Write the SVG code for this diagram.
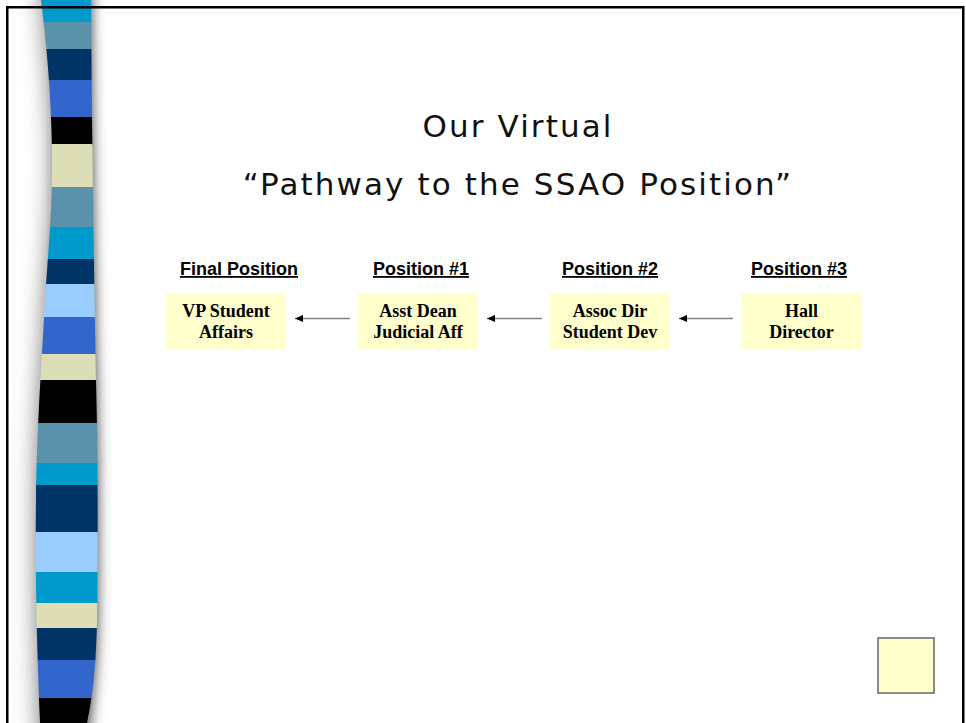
<svg xmlns="http://www.w3.org/2000/svg" width="966" height="723" viewBox="0 0 966 723">
<defs>
<style>
.title{font-family:"DejaVu Sans","Liberation Sans",sans-serif;font-size:31px;letter-spacing:2.1px;fill:#111;text-anchor:middle}
.hdr{font-family:"Liberation Sans",Arial,sans-serif;font-size:18px;font-weight:bold;text-anchor:middle;text-decoration:underline;fill:#000}
.box{fill:#FFFFCC;stroke:none}
.lbl{font-family:"Liberation Serif","Times New Roman",serif;font-size:18px;font-weight:bold;text-anchor:middle;fill:#000}
.conn{stroke:#808080;stroke-width:1.5;fill:none}
</style>
<clipPath id="band">
<path d="M41,0 C46,40 51,90 52,150 C53,200 49,240 45,300 C42,360 37,420 36,500 C35,580 37,650 40,723 L87,723 C92,700 96,670 97,620 C98,540 98,460 96,380 C94,280 92,140 91,0 Z"/>
</clipPath>
<filter id="blurL" x="-100%" y="-10%" width="300%" height="120%">
<feGaussianBlur stdDeviation="12"/>
</filter>
<filter id="blurR" x="-100%" y="-10%" width="300%" height="120%">
<feGaussianBlur stdDeviation="7"/>
</filter>
<marker id="ah" markerWidth="8" markerHeight="7" refX="8" refY="3.5" orient="auto" markerUnits="userSpaceOnUse">
<path d="M0,0 L8,3.5 L0,7 Z" fill="#000"/>
</marker>
</defs>
<rect x="0" y="0" width="966" height="723" fill="#fff"/>
<g id="band-shadow">
<path filter="url(#blurL)" d="M42,-20 C47,40 52,90 53,150 C54,200 50,240 46,300 C43,360 38,420 37,500 C36,580 38,650 41,743 L70,743 L70,-20 Z" fill="#707070"/>
<path filter="url(#blurR)" d="M60,-20 L89,-20 L91,0 C92,140 94,280 96,380 C98,460 98,540 97,620 C96,670 92,700 87,743 L60,743 Z" fill="#404040"/>
</g>
<g id="stripes" clip-path="url(#band)">
<rect x="30" y="0" width="75" height="23" fill="#0099CC"/>
<rect x="30" y="22" width="75" height="28" fill="#5A91AB"/>
<rect x="30" y="49" width="75" height="32" fill="#003366"/>
<rect x="30" y="80" width="75" height="38" fill="#3366CC"/>
<rect x="30" y="117" width="75" height="28" fill="#000000"/>
<rect x="30" y="144" width="75" height="44" fill="#DDDEB8"/>
<rect x="30" y="187" width="75" height="41" fill="#5A91AB"/>
<rect x="30" y="227" width="75" height="33" fill="#0099CC"/>
<rect x="30" y="259" width="75" height="26" fill="#003366"/>
<rect x="30" y="284" width="75" height="34" fill="#99CCFF"/>
<rect x="30" y="317" width="75" height="38" fill="#3366CC"/>
<rect x="30" y="354" width="75" height="27" fill="#DDDEB8"/>
<rect x="30" y="380" width="75" height="44" fill="#000000"/>
<rect x="30" y="423" width="75" height="41" fill="#5A91AB"/>
<rect x="30" y="463" width="75" height="23" fill="#0099CC"/>
<rect x="30" y="485" width="75" height="48" fill="#003366"/>
<rect x="30" y="532" width="75" height="41" fill="#99CCFF"/>
<rect x="30" y="572" width="75" height="32" fill="#0099CC"/>
<rect x="30" y="603" width="75" height="26" fill="#DDDEB8"/>
<rect x="30" y="628" width="75" height="33" fill="#003366"/>
<rect x="30" y="660" width="75" height="39" fill="#3366CC"/>
<rect x="30" y="698" width="75" height="25" fill="#000000"/>
</g>
<rect id="frame" x="7.25" y="7.25" width="956" height="800" fill="none" stroke="#000" stroke-width="2.5"/>
<g id="title">
<text class="title" x="518" y="137">Our Virtual</text>
<text class="title" x="518" y="195">“Pathway to the SSAO Position”</text>
</g>
<g id="headers">
<text class="hdr" x="239" y="275">Final Position</text>
<text class="hdr" x="421" y="275">Position #1</text>
<text class="hdr" x="610" y="275">Position #2</text>
<text class="hdr" x="799" y="275">Position #3</text>
</g>
<g id="connectors">
<line class="conn" x1="350" y1="318.5" x2="295" y2="318.5" marker-end="url(#ah)"/>
<line class="conn" x1="542" y1="318.5" x2="487" y2="318.5" marker-end="url(#ah)"/>
<line class="conn" x1="733" y1="318.5" x2="679" y2="318.5" marker-end="url(#ah)"/>
</g>
<g id="node-vp">
<rect class="box" x="166" y="293" width="120" height="56"/>
<text class="lbl" x="226" y="317">VP Student</text>
<text class="lbl" x="226" y="338">Affairs</text>
</g>
<g id="node-asst">
<rect class="box" x="358" y="293" width="120" height="56"/>
<text class="lbl" x="418" y="317">Asst Dean</text>
<text class="lbl" x="418" y="338">Judicial Aff</text>
</g>
<g id="node-assoc">
<rect class="box" x="550" y="293" width="120" height="56"/>
<text class="lbl" x="610" y="317">Assoc Dir</text>
<text class="lbl" x="610" y="338">Student Dev</text>
</g>
<g id="node-hall">
<rect class="box" x="741" y="293" width="121" height="56"/>
<text class="lbl" x="801.5" y="317">Hall</text>
<text class="lbl" x="801.5" y="338">Director</text>
</g>
<g id="corner-box">
<rect x="878" y="638" width="56" height="55" fill="#FFFFCC" stroke="#666" stroke-width="1.5"/>
</g>
</svg>
